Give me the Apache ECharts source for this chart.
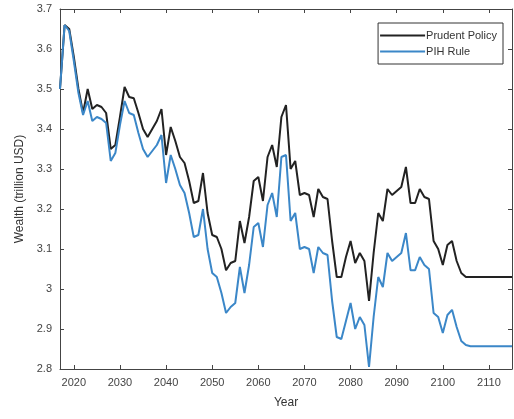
<!DOCTYPE html>
<html>
<head>
<meta charset="utf-8">
<script src="https://cdn.jsdelivr.net/npm/echarts@6/dist/echarts.min.js"></script>
<style>
  html, body { margin: 0; padding: 0; background: #fff; }
  #main { width: 514px; height: 419px; }
</style>
</head>
<body>
<div id="main"></div>
<script>
// years 2017..2115, one value per year
var startYear = 2017;
var endYear = 2115;
var xTicks = [2020, 2030, 2040, 2050, 2060, 2070, 2080, 2090, 2100, 2110];

var prudent = [
  3.50, 3.66, 3.65, 3.58, 3.50, 3.44, 3.50, 3.45, 3.46, 3.455,   // 2017-2026
  3.44, 3.35, 3.36, 3.43, 3.505, 3.48, 3.477, 3.44, 3.40, 3.38,  // 2027-2036
  3.40, 3.42, 3.45, 3.335, 3.405, 3.37, 3.33, 3.315, 3.27, 3.215, // 2037-2046
  3.22, 3.29, 3.19, 3.135, 3.13, 3.10, 3.047, 3.065, 3.07, 3.17, // 2047-2056
  3.115, 3.18, 3.27, 3.28, 3.22, 3.33, 3.36, 3.305, 3.43, 3.46,  // 2057-2066
  3.30, 3.32, 3.235, 3.24, 3.235, 3.18, 3.25, 3.23, 3.225, 3.12, // 2067-2076
  3.03, 3.03, 3.08, 3.12, 3.065, 3.09, 3.07, 2.97, 3.09, 3.19,   // 2077-2086
  3.17, 3.25, 3.235, 3.245, 3.255, 3.305, 3.215, 3.215, 3.25, 3.23, // 2087-2096
  3.225, 3.12, 3.10, 3.06, 3.11, 3.12, 3.07, 3.04, 3.03, 3.03,   // 2097-2106
  3.03, 3.03, 3.03, 3.03, 3.03, 3.03, 3.03, 3.03, 3.03           // 2107-2115
];

var pihRule = [
  3.50, 3.66, 3.645, 3.57, 3.49, 3.435, 3.47, 3.42, 3.43, 3.425,
  3.415, 3.32, 3.34, 3.41, 3.47, 3.44, 3.435, 3.39, 3.35, 3.33,
  3.345, 3.36, 3.385, 3.265, 3.335, 3.30, 3.26, 3.24, 3.19, 3.13,
  3.135, 3.20, 3.10, 3.04, 3.03, 2.99, 2.94, 2.955, 2.965, 3.055,
  2.99, 3.06, 3.155, 3.165, 3.105, 3.21, 3.24, 3.18, 3.33, 3.335,
  3.17, 3.19, 3.10, 3.105, 3.10, 3.04, 3.105, 3.09, 3.085, 2.97,
  2.88, 2.875, 2.92, 2.965, 2.90, 2.93, 2.91, 2.805, 2.93, 3.03,
  3.005, 3.09, 3.07, 3.08, 3.09, 3.14, 3.047, 3.047, 3.08, 3.06,
  3.05, 2.94, 2.93, 2.89, 2.935, 2.948, 2.905, 2.87, 2.86, 2.857,
  2.857, 2.857, 2.857, 2.857, 2.857, 2.857, 2.857, 2.857, 2.857
];

function pairs(arr) {
  return arr.map(function (v, i) { return [startYear + i, v]; });
}

var myChart = echarts.init(document.getElementById('main'));

var axisColor = '#444';
var font = 'Liberation Sans, Arial, sans-serif';

var option = {
  backgroundColor: '#fff',
  animation: false,
  textStyle: { fontFamily: font },
  grid: { left: 60, right: 2, top: 9, bottom: 50 },
  legend: {
    orient: 'vertical',
    right: 11,
    top: 23,
    itemWidth: 45,
    itemHeight: 2,
    itemGap: 5,
    icon: 'rect',
    padding: [7, 6, 7, 2],
    borderColor: '#333',
    borderWidth: 1,
    backgroundColor: '#fff',
    textStyle: { fontSize: 11, color: '#333', fontFamily: font, padding: [0, 0, 0, -4] },
    data: ['Prudent Policy', 'PIH Rule']
  },
  xAxis: [{
    type: 'value',
    min: startYear,
    max: endYear,
    name: 'Year',
    nameLocation: 'middle',
    nameGap: 28,
    nameTextStyle: { fontSize: 12, color: '#333' },
    axisLine: { lineStyle: { color: axisColor } },
    axisTick: { inside: true, length: 4, customValues: xTicks, lineStyle: { color: axisColor } },
    axisLabel: {
      customValues: xTicks, fontSize: 11, color: '#444', margin: 8,
      formatter: function (v) { return String(v); }
    },
    splitLine: { show: false }
  }, {
    type: 'value',
    position: 'top',
    min: startYear,
    max: endYear,
    axisLine: { show: true, lineStyle: { color: axisColor } },
    axisTick: { inside: true, length: 4, customValues: xTicks, lineStyle: { color: axisColor } },
    axisLabel: { show: false },
    splitLine: { show: false }
  }],
  yAxis: [{
    type: 'value',
    min: 2.8,
    max: 3.7,
    interval: 0.1,
    name: 'Wealth (trillion USD)',
    nameLocation: 'middle',
    nameGap: 34,
    nameTextStyle: { fontSize: 12, color: '#333' },
    axisLine: { show: true, lineStyle: { color: axisColor } },
    axisTick: { inside: true, length: 4, lineStyle: { color: axisColor } },
    axisLabel: { fontSize: 11, color: '#444', margin: 8 },
    splitLine: { show: false }
  }, {
    type: 'value',
    position: 'right',
    min: 2.8,
    max: 3.7,
    interval: 0.1,
    axisLine: { show: true, lineStyle: { color: axisColor } },
    axisTick: { inside: true, length: 4, lineStyle: { color: axisColor } },
    axisLabel: { show: false },
    splitLine: { show: false }
  }],
  series: [{
    name: 'Prudent Policy',
    type: 'line',
    showSymbol: false,
    data: pairs(prudent),
    lineStyle: { width: 2, color: '#222' },
    itemStyle: { color: '#222' }
  }, {
    name: 'PIH Rule',
    type: 'line',
    showSymbol: false,
    data: pairs(pihRule),
    lineStyle: { width: 2, color: '#3b87c8' },
    itemStyle: { color: '#3b87c8' }
  }]
};

myChart.setOption(option);
</script>
</body>
</html>
